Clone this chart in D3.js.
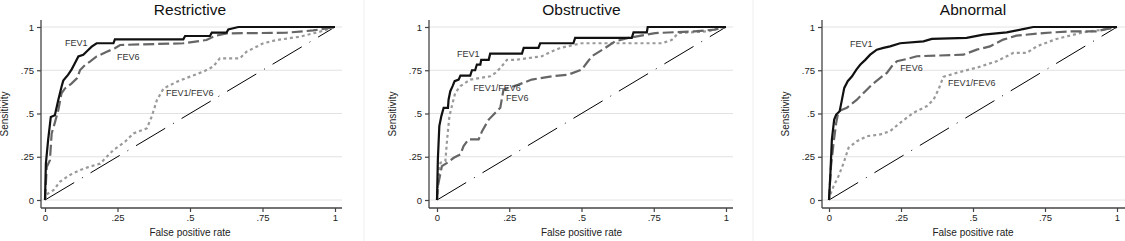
<!DOCTYPE html>
<html>
<head>
<meta charset="utf-8">
<script src="https://cdn.jsdelivr.net/npm/d3@7"></script>
<style>
body { margin:0; background:#fff; }
svg { font-family: "Liberation Sans", Arial, sans-serif; }
</style>
</head>
<body>
<div id="chart"></div>
<script>
// ROC points [false positive rate, sensitivity]
var restrictiveFev1 = [[0,0],[0.003,0.21],[0.011,0.35],[0.02,0.48],[0.034,0.49],[0.046,0.58],[0.057,0.655],[0.063,0.69],[0.08,0.725],[0.092,0.755],[0.103,0.79],[0.115,0.83],[0.132,0.84],[0.149,0.867],[0.161,0.886],[0.178,0.906],[0.236,0.906],[0.241,0.929],[0.477,0.929],[0.483,0.948],[0.569,0.948],[0.575,0.967],[0.626,0.967],[0.632,0.986],[0.667,1],[1,1]];
var restrictiveFev6 = [[0,0],[0.006,0.19],[0.017,0.23],[0.023,0.385],[0.034,0.447],[0.046,0.52],[0.057,0.617],[0.069,0.645],[0.092,0.674],[0.11,0.703],[0.121,0.751],[0.138,0.78],[0.155,0.8],[0.178,0.83],[0.213,0.857],[0.241,0.877],[0.259,0.896],[0.477,0.906],[0.557,0.925],[0.586,0.948],[0.626,0.963],[0.833,0.967],[0.925,0.98],[1,1]];
var restrictiveRatio = [[0,0],[0.006,0.033],[0.03,0.058],[0.052,0.106],[0.086,0.145],[0.121,0.173],[0.149,0.19],[0.19,0.21],[0.207,0.24],[0.236,0.289],[0.276,0.337],[0.305,0.385],[0.351,0.414],[0.368,0.482],[0.386,0.578],[0.409,0.645],[0.455,0.684],[0.5,0.713],[0.546,0.742],[0.58,0.771],[0.603,0.819],[0.672,0.819],[0.695,0.857],[0.753,0.906],[0.8,0.925],[0.879,0.944],[0.948,0.973],[1,1]];

var obstructiveFev1 = [[0,0],[0.003,0.235],[0.008,0.427],[0.015,0.485],[0.023,0.533],[0.038,0.533],[0.04,0.58],[0.046,0.629],[0.054,0.658],[0.061,0.687],[0.075,0.696],[0.081,0.719],[0.115,0.719],[0.121,0.75],[0.132,0.75],[0.138,0.783],[0.15,0.783],[0.153,0.81],[0.179,0.81],[0.184,0.846],[0.294,0.846],[0.3,0.879],[0.351,0.879],[0.357,0.906],[0.472,0.906],[0.478,0.937],[0.674,0.937],[0.68,0.969],[0.726,0.969],[0.729,1],[1,1]];
var obstructiveFev6 = [[0,0],[0.003,0.08],[0.017,0.196],[0.035,0.215],[0.058,0.244],[0.081,0.263],[0.092,0.312],[0.109,0.35],[0.144,0.35],[0.156,0.398],[0.179,0.465],[0.196,0.494],[0.219,0.533],[0.23,0.638],[0.248,0.648],[0.282,0.667],[0.328,0.696],[0.397,0.715],[0.455,0.725],[0.501,0.754],[0.518,0.792],[0.536,0.831],[0.582,0.879],[0.616,0.917],[0.662,0.937],[0.755,0.965],[0.893,0.975],[0.962,0.985],[1,1]];
var obstructiveRatio = [[0,0],[0.006,0.158],[0.012,0.215],[0.029,0.225],[0.035,0.35],[0.043,0.485],[0.054,0.56],[0.063,0.619],[0.081,0.658],[0.098,0.677],[0.115,0.696],[0.184,0.715],[0.202,0.735],[0.219,0.763],[0.242,0.81],[0.271,0.81],[0.363,0.831],[0.386,0.85],[0.426,0.879],[0.501,0.906],[0.778,0.906],[0.812,0.925],[0.835,0.965],[0.939,0.975],[0.973,0.994],[1,1]];

var abnormalFev1 = [[0,0],[0.005,0.158],[0.01,0.35],[0.018,0.465],[0.025,0.494],[0.037,0.513],[0.045,0.58],[0.053,0.648],[0.065,0.687],[0.08,0.715],[0.095,0.754],[0.109,0.783],[0.126,0.81],[0.143,0.84],[0.166,0.869],[0.189,0.879],[0.212,0.888],[0.247,0.906],[0.328,0.917],[0.357,0.931],[0.478,0.937],[0.536,0.956],[0.617,0.969],[0.674,0.988],[0.709,1],[1,1]];
var abnormalFev6 = [[0,0],[0.007,0.196],[0.016,0.331],[0.025,0.446],[0.033,0.513],[0.062,0.533],[0.097,0.58],[0.126,0.629],[0.149,0.667],[0.178,0.706],[0.201,0.735],[0.218,0.773],[0.236,0.802],[0.27,0.815],[0.305,0.831],[0.467,0.84],[0.513,0.869],[0.559,0.888],[0.605,0.927],[0.651,0.95],[0.744,0.965],[0.836,0.975],[0.928,0.975],[0.963,0.988],[1,1]];
var abnormalRatio = [[0,0],[0.007,0.042],[0.016,0.08],[0.033,0.138],[0.051,0.215],[0.068,0.302],[0.097,0.34],[0.132,0.369],[0.178,0.379],[0.212,0.398],[0.247,0.446],[0.293,0.504],[0.339,0.542],[0.363,0.58],[0.38,0.638],[0.397,0.712],[0.443,0.735],[0.513,0.765],[0.582,0.802],[0.64,0.85],[0.686,0.85],[0.721,0.888],[0.79,0.931],[0.882,0.969],[0.952,0.985],[1,1]];

var reference = [[0,0],[1,1]];

// label anchors [fpr, sensitivity] for FEV1, FEV6, FEV1/FEV6
var restrictiveLabels = [[0.069,0.89],[0.248,0.81],[0.417,0.60]];
var obstructiveLabels = [[0.069,0.827],[0.239,0.572],[0.125,0.63]];
var abnormalLabels = [[0.073,0.884],[0.247,0.746],[0.413,0.66]];

var titles = ["Restrictive", "Obstructive", "Abnormal"];
var seriesNames = ["FEV1", "FEV6", "FEV1/FEV6"];
var tickValues = [0, 0.25, 0.5, 0.75, 1];
var tickLabels = ["0", ".25", ".5", ".75", "1"];

var panels = [
  {title: titles[0], lines: [restrictiveFev1, restrictiveFev6, restrictiveRatio], labels: restrictiveLabels, axisX: 41, x0: 45, x1: 335, right: 342},
  {title: titles[1], lines: [obstructiveFev1, obstructiveFev6, obstructiveRatio], labels: obstructiveLabels, axisX: 429, x0: 437, x1: 726, right: 733},
  {title: titles[2], lines: [abnormalFev1, abnormalFev6, abnormalRatio], labels: abnormalLabels, axisX: 822, x0: 829, x1: 1117, right: 1125}
];

var styles = [
  {stroke: "#111", width: 2.2, dash: null},
  {stroke: "#666", width: 2.2, dash: "11,4"},
  {stroke: "#9a9a9a", width: 2.2, dash: "3,3"}
];

var svg = d3.select("#chart").append("svg")
  .attr("width", 1125)
  .attr("height", 241);

// faint separators between the graphs
[364, 753].forEach(function(x) {
  svg.append("line")
    .attr("x1", x).attr("x2", x).attr("y1", 0).attr("y2", 241)
    .attr("stroke", "#eee").attr("stroke-width", 1);
});

var yTop = 20, yBottom = 208;
var y = d3.scaleLinear().domain([0, 1]).range([200, 27]);

panels.forEach(function(p) {
  var x = d3.scaleLinear().domain([0, 1]).range([p.x0, p.x1]);
  var g = svg.append("g");

  // gridlines
  g.selectAll("line.grid")
    .data(tickValues)
    .enter().append("line")
    .attr("class", "grid")
    .attr("x1", p.axisX).attr("x2", p.right)
    .attr("y1", function(d) { return y(d); })
    .attr("y2", function(d) { return y(d); })
    .attr("stroke", "#e2e2e2")
    .attr("stroke-width", 1);

  // axes
  var yAxis = d3.axisLeft(y).tickValues(tickValues)
    .tickFormat(function(d, i) { return tickLabels[i]; })
    .tickSize(4).tickPadding(3);
  var ya = g.append("g")
    .attr("transform", "translate(" + p.axisX + ",0)")
    .call(yAxis);
  ya.select(".domain").attr("d", "M0," + yTop + "V" + yBottom);

  var xAxis = d3.axisBottom(x).tickValues(tickValues)
    .tickFormat(function(d, i) { return tickLabels[i]; })
    .tickSize(4).tickPadding(2);
  var xa = g.append("g")
    .attr("transform", "translate(0," + yBottom + ")")
    .call(xAxis);
  xa.select(".domain").attr("d", "M" + p.axisX + ",0H" + p.right);

  [ya, xa].forEach(function(a) {
    a.select(".domain").attr("stroke", "#444").attr("stroke-width", 1.3);
    a.selectAll(".tick line").attr("stroke", "#444").attr("stroke-width", 1.2);
    a.selectAll(".tick text").attr("fill", "#222").style("font-size", "9.5px");
  });

  // reference diagonal
  var line = d3.line()
    .x(function(d) { return x(d[0]); })
    .y(function(d) { return y(d[1]); });

  g.append("path")
    .datum(reference)
    .attr("d", line)
    .attr("fill", "none")
    .attr("stroke", "#000")
    .attr("stroke-width", 1)
    .attr("stroke-dasharray", "34,9,1,9");

  // curves, drawn back to front
  [2, 1, 0].forEach(function(i) {
    g.append("path")
      .datum(p.lines[i])
      .attr("d", line)
      .attr("fill", "none")
      .attr("stroke", styles[i].stroke)
      .attr("stroke-width", styles[i].width)
      .attr("stroke-dasharray", styles[i].dash)
      .attr("stroke-linejoin", "miter");
  });

  // curve labels
  g.selectAll("text.lab")
    .data(p.labels)
    .enter().append("text")
    .attr("class", "lab")
    .attr("x", function(d) { return x(d[0]); })
    .attr("y", function(d) { return y(d[1]); })
    .attr("fill", "#333")
    .style("font-size", "9px")
    .text(function(d, i) { return seriesNames[i]; });

  // title
  g.append("text")
    .attr("x", (p.x0 + p.x1) / 2)
    .attr("y", 14.5)
    .attr("text-anchor", "middle")
    .attr("fill", "#111")
    .style("font-size", "15.5px")
    .text(p.title);

  // axis titles
  g.append("text")
    .attr("x", (p.x0 + p.x1) / 2)
    .attr("y", 236)
    .attr("text-anchor", "middle")
    .attr("fill", "#222")
    .style("font-size", "10px")
    .text("False positive rate");

  g.append("text")
    .attr("transform", "translate(" + (p.axisX - 33) + "," + ((yTop + yBottom) / 2) + ") rotate(-90)")
    .attr("text-anchor", "middle")
    .attr("fill", "#222")
    .style("font-size", "10px")
    .text("Sensitivity");
});
</script>
</body>
</html>
